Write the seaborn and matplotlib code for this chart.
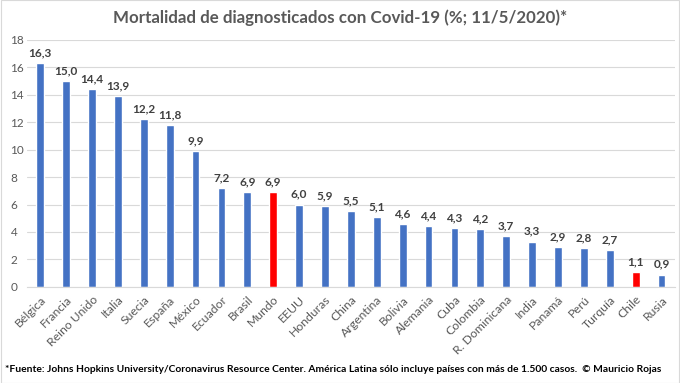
import matplotlib
matplotlib.use("Agg")
import matplotlib.pyplot as plt
import seaborn as sns
import pandas as pd

paises = ["Bélgica", "Francia", "Reino Unido", "Italia", "Suecia", "España", "México",
          "Ecuador", "Brasil", "Mundo", "EEUU", "Honduras", "China", "Argentina",
          "Bolivia", "Alemania", "Cuba", "Colombia", "R. Dominicana", "India",
          "Panamá", "Perú", "Turquía", "Chile", "Rusia"]
mortalidad = [16.3, 15.0, 14.4, 13.9, 12.2, 11.8, 9.9, 7.2, 6.9, 6.9, 6.0, 5.9, 5.5,
              5.1, 4.6, 4.4, 4.3, 4.2, 3.7, 3.3, 2.9, 2.8, 2.7, 1.1, 0.9]
destacados = ["Mundo", "Chile"]

df = pd.DataFrame({"pais": paises, "valor": mortalidad})
colores = ["#FF0000" if p in destacados else "#4472C4" for p in paises]

sns.set_style("white")
plt.rcParams["font.family"] = ["Lato", "DejaVu Sans"]

fig = plt.figure(figsize=(6.8, 3.83), dpi=100)
ax = fig.add_axes([0.04, 0.251, 0.952, 0.645])

sns.barplot(data=df, x="pais", y="valor", hue="pais", palette=colores,
            legend=False, width=0.3, ax=ax, saturation=1)

for i, v in enumerate(mortalidad):
    ax.text(i, v + 0.35, f"{v:.1f}".replace(".", ","), ha="center", va="bottom",
            fontsize=8.5, fontweight="bold", color="#404040")

ax.set_ylim(0, 18)
ax.set_yticks(range(0, 19, 2))
ax.set_xlim(-0.5, len(paises) - 0.5)
ax.yaxis.grid(True, color="#D9D9D9", linewidth=0.8)
ax.set_axisbelow(True)
for s in ["left", "right", "top"]:
    ax.spines[s].set_visible(False)
ax.spines["bottom"].set_color("#D9D9D9")
ax.set_xlabel("")
ax.set_ylabel("")
ax.tick_params(axis="y", length=0, labelsize=8.5, labelcolor="#595959", pad=12)
ax.tick_params(axis="x", length=0, labelsize=8.8, labelcolor="#595959", pad=5)
for lab in ax.get_xticklabels():
    lab.set_rotation(45)
    lab.set_ha("right")
    lab.set_rotation_mode("anchor")
for lab in ax.get_yticklabels():
    lab.set_ha("left")

fig.text(0.5, 0.955, "Mortalidad de diagnosticados con Covid-19 (%; 11/5/2020)*",
         ha="center", va="center", fontsize=12.2, fontweight="bold", color="#595959")
fig.text(0.008, 0.035,
         "*Fuente: Johns Hopkins University/Coronavirus Resource Center. América Latina sólo "
         "incluye países con más de 1.500 casos.  © Mauricio Rojas",
         ha="left", va="center", fontsize=7.4, fontweight="bold", color="#000000")

fig.patches.append(plt.Rectangle((0.001, 0.001), 0.998, 0.998, transform=fig.transFigure,
                                 fill=False, edgecolor="#D9D9D9", linewidth=0.8))

fig.savefig("out.png", dpi=100)
